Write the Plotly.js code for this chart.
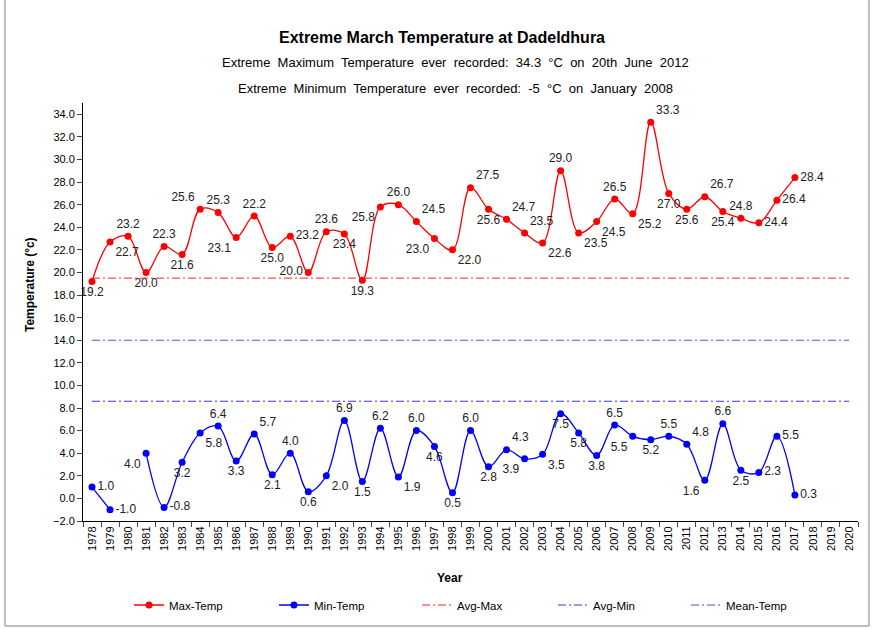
<!DOCTYPE html>
<html>
<head>
<meta charset="utf-8">
<script src="https://cdn.plot.ly/plotly-3.0.1.min.js"></script>
<style>html,body{margin:0;padding:0;background:#fff;}#chart{width:874px;height:629px;}</style>
</head>
<body>
<div id="chart"></div>
<script>
var years = ["1978","1979","1980","1981","1982","1983","1984","1985","1986","1987","1988","1989","1990","1991","1992","1993","1994","1995","1996","1997","1998","1999","2000","2001","2002","2003","2004","2005","2006","2007","2008","2009","2010","2011","2012","2013","2014","2015","2016","2017","2018","2019","2020"];

var maxTemp = [19.2,22.7,23.2,20.0,22.3,21.6,25.6,25.3,23.1,25.0,22.2,23.2,20.0,23.6,23.4,19.3,25.8,26.0,24.5,23.0,22.0,27.5,25.6,24.7,23.5,22.6,29.0,23.5,24.5,26.5,25.2,33.3,27.0,25.6,26.7,25.4,24.8,24.4,26.4,28.4,null,null,null];
var maxLabels = ["19.2","22.7","23.2","20.0","22.3","21.6","25.6","25.3","23.1","22.2","25.0","23.2","20.0","23.6","23.4","19.3","25.8","26.0","24.5","23.0","22.0","27.5","25.6","24.7","23.5","22.6","29.0","23.5","24.5","26.5","25.2","33.3","27.0","25.6","26.7","25.4","24.8","24.4","26.4","28.4","","",""];

var minTemp = [1.0,-1.0,null,4.0,-0.8,3.2,5.8,6.4,3.3,5.7,2.1,4.0,0.6,2.0,6.9,1.5,6.2,1.9,6.0,4.6,0.5,6.0,2.8,4.3,3.5,3.9,7.5,5.8,3.8,6.5,5.5,5.2,5.5,4.8,1.6,6.6,2.5,2.3,5.5,0.3,null,null,null];
var minLabels = ["1.0","-1.0","","4.0","-0.8","3.2","5.8","6.4","3.3","5.7","2.1","4.0","0.6","2.0","6.9","1.5","6.2","1.9","6.0","4.6","0.5","6.0","2.8","4.3","3.9","3.5","7.5","5.8","3.8","6.5","5.5","5.2","5.5","4.8","1.6","6.6","2.5","2.3","5.5","0.3","","",""];

var avgMax = 19.5;
var avgMin = 8.6;
var meanTemp = 14.0;

var yTicks = [-2,0,2,4,6,8,10,12,14,16,18,20,22,24,26,28,30,32,34];

var maxPos = ["bottom center","bottom right","top center","bottom center","top center","bottom center","top left","top center","bottom left","top center","bottom center","middle right","middle left","top center","bottom center","bottom center","bottom left","top center","top right","bottom left","bottom right","top right","bottom center","top right","top right","bottom right","top center","bottom right","bottom right","top center","bottom right","top right","bottom center","bottom center","top right","bottom center","top center","middle right","middle right","middle right","top center","top center","top center"];
var minPos = ["middle right","middle right","top center","bottom left","middle right","bottom center","bottom right","top center","bottom center","top right","bottom center","top center","bottom center","bottom right","top center","bottom center","top center","bottom right","top center","bottom center","bottom center","top center","bottom center","top right","bottom left","bottom right","bottom center","bottom center","bottom center","top center","bottom left","bottom center","top center","top right","bottom left","top center","bottom center","middle right","middle right","middle right","top center","top center","top center"];

var FONT = "Liberation Sans, Arial, sans-serif";
var first = years[0], last = years[years.length-1];
var dashPat = "8px,3px,2px,3px";

var L = 83, R = 858, T = 103, B = 521;
function px(x){ return (x - L) / (R - L); }
function py(y){ return (B - y) / (B - T); }

var traces = [
  {x: years, y: maxTemp, name: "Max-Temp", type: "scatter", mode: "lines+markers+text", legend: "legend",
   line: {color: "#FF0000", width: 1.3, shape: "spline", smoothing: 1}, marker: {color: "#FF0000", size: 7},
   text: maxLabels, textposition: maxPos, textfont: {family: FONT, size: 12, color: "#222"}, connectgaps: false, cliponaxis: false},
  {x: years, y: minTemp, name: "Min-Temp", type: "scatter", mode: "lines+markers+text", legend: "legend2",
   line: {color: "#0000FF", width: 1.3, shape: "spline", smoothing: 1}, marker: {color: "#0000FF", size: 7},
   text: minLabels, textposition: minPos, textfont: {family: FONT, size: 12, color: "#222"}, connectgaps: false, cliponaxis: false},
  {x: [first, last], y: [avgMax, avgMax], name: "Avg-Max", type: "scatter", mode: "lines", legend: "legend3",
   line: {color: "#FF2020", width: 1, dash: dashPat}},
  {x: [first, last], y: [avgMin, avgMin], name: "Avg-Min", type: "scatter", mode: "lines", legend: "legend4",
   line: {color: "#3333FF", width: 1, dash: dashPat}},
  {x: [first, last], y: [meanTemp, meanTemp], name: "Mean-Temp", type: "scatter", mode: "lines", legend: "legend5",
   line: {color: "#7F3FBF", width: 1, dash: dashPat}}
];

function leg(textStart){
  return {orientation: "h", x: px(textStart - 40), xanchor: "left", y: py(605), yanchor: "middle",
          font: {family: FONT, size: 11.5, color: "#000"}, bgcolor: "rgba(0,0,0,0)", borderwidth: 0};
}
function sp(s){ return s.split(" ").join("\u00a0 "); }

var layout = {
  width: 874, height: 629,
  margin: {l: L, r: 874 - R, t: T, b: 629 - B, autoexpand: false},
  paper_bgcolor: "#fff", plot_bgcolor: "#fff",
  font: {family: FONT, size: 11, color: "#000"},
  showlegend: true,
  title: {text: "<b>Extreme March Temperature at Dadeldhura</b>", font: {family: FONT, size: 16, color: "#000"},
          x: 442/874, xanchor: "center", xref: "container", y: 1 - 37/629, yanchor: "middle", yref: "container"},
  xaxis: {type: "category", tickangle: -90, ticks: "outside", ticklen: 5, tickson: "boundaries", automargin: false,
          showline: true, linecolor: "#000", linewidth: 1, showgrid: false, zeroline: false,
          tickfont: {family: FONT, size: 11, color: "#000"}, range: [-0.5, years.length - 0.5]},
  yaxis: {range: [-2, 35], tickvals: yTicks, tickformat: ".1f", ticks: "outside", ticklen: 5, automargin: false,
          showline: true, linecolor: "#000", linewidth: 1, showgrid: false, zeroline: false,
          tickfont: {family: FONT, size: 11, color: "#000"}},
  legend: leg(169), legend2: leg(314), legend3: leg(457), legend4: leg(593), legend5: leg(726),
  annotations: [
    {text: sp("Extreme Maximum Temperature ever recorded: 34.3 °C on 20th June 2012"), xref: "paper", yref: "paper",
     x: px(455), y: py(62), xanchor: "center", yanchor: "middle", showarrow: false, font: {family: FONT, size: 13, color: "#000"}},
    {text: sp("Extreme Minimum Temperature ever recorded: -5 °C on January 2008"), xref: "paper", yref: "paper",
     x: px(455), y: py(89), xanchor: "center", yanchor: "middle", showarrow: false, font: {family: FONT, size: 13, color: "#000"}},
    {text: "<b>Temperature (°c)</b>", xref: "paper", yref: "paper", x: px(30), y: py(285), textangle: -90,
     xanchor: "center", yanchor: "middle", showarrow: false, font: {family: FONT, size: 12, color: "#000"}},
    {text: "<b>Year</b>", xref: "paper", yref: "paper", x: px(450), y: py(578),
     xanchor: "center", yanchor: "middle", showarrow: false, font: {family: FONT, size: 12, color: "#000"}}
  ],
  shapes: [
    {type: "rect", xref: "paper", yref: "paper", x0: px(5), x1: px(869), y0: py(626), y1: py(-5),
     line: {color: "#808080", width: 1}, fillcolor: "rgba(0,0,0,0)"}
  ]
};

Plotly.newPlot("chart", traces, layout, {displayModeBar: false, staticPlot: true});
</script>
</body>
</html>
